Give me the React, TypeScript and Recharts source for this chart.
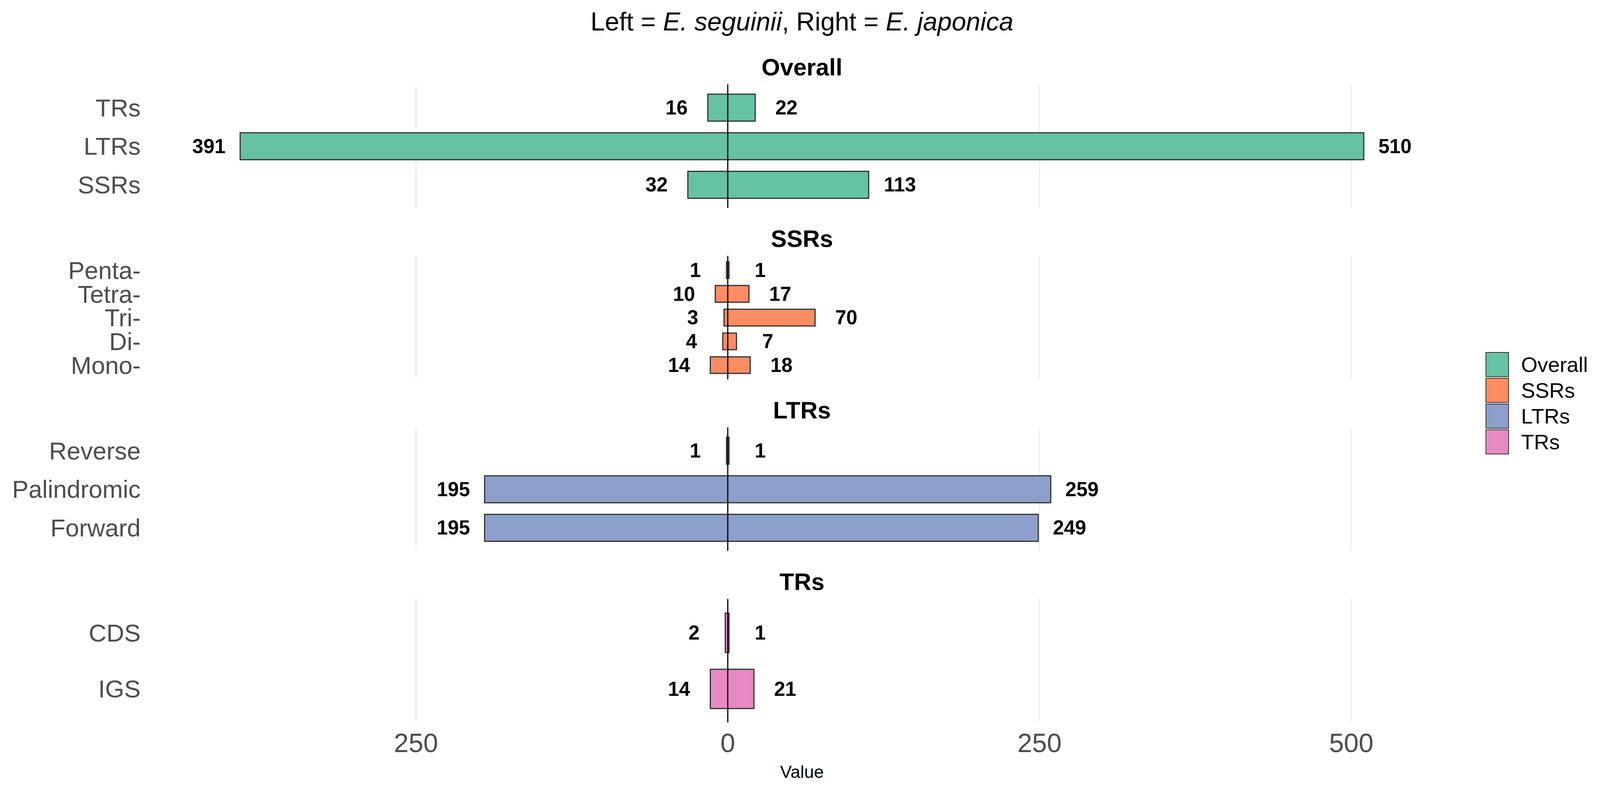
import React from "react";
import { Bar, BarChart, CartesianGrid, LabelList, ReferenceLine, XAxis, YAxis } from "recharts";

// facet names and fills (Set2)
const panelNames = ["Overall", "SSRs", "LTRs", "TRs"];
const panelColors = ["#66C2A5", "#FC8D62", "#8DA0CB", "#E78AC3"];

// left = E. seguinii, right = E. japonica
const overallCats = ["TRs", "LTRs", "SSRs"];
const overallLeft = [16, 391, 32];
const overallRight = [22, 510, 113];

const ssrCats = ["Penta-", "Tetra-", "Tri-", "Di-", "Mono-"];
const ssrLeft = [1, 10, 3, 4, 14];
const ssrRight = [1, 17, 70, 7, 18];

const ltrCats = ["Reverse", "Palindromic", "Forward"];
const ltrLeft = [1, 195, 195];
const ltrRight = [1, 259, 249];

const trCats = ["CDS", "IGS"];
const trLeft = [2, 14];
const trRight = [1, 21];

const xTicks = [-250, 0, 250, 500];

const panels = [
  { cats: overallCats, left: overallLeft, right: overallRight },
  { cats: ssrCats, left: ssrLeft, right: ssrRight },
  { cats: ltrCats, left: ltrLeft, right: ltrRight },
  { cats: trCats, left: trLeft, right: trRight },
];

// the browser caps the page at 4096px wide, so horizontal layout is squeezed to fit
const SX = 4096 / 4195;
const W = 4096;
const H = 2022;
const PLOT_LEFT = Math.round(482 * SX);
const PLOT_RIGHT = Math.round(3723 * SX);
const YLABEL_RIGHT = Math.round(369 * SX);
const PANEL_H = 316;
const PANEL_TOPS = [216, 655, 1094, 1533];
const LABEL_OFFSET = 80;
const FONT = '"Liberation Sans", Arial, sans-serif';

const lo = -Math.max(...panels.flatMap((p) => p.left));
const hi = Math.max(...panels.flatMap((p) => p.right));
const pad = 0.05 * (hi - lo);
const domain = [lo - pad, hi + pad];

const LeftLabel = (props: any) => {
  const { x, y, height, value } = props;
  return (
    <text x={x - LABEL_OFFSET} y={y + height / 2} textAnchor="middle" dominantBaseline="central"
      fontSize={51} fontWeight="bold" fontFamily={FONT} fill="#000">
      {value}
    </text>
  );
};

const RightLabel = (props: any) => {
  const { x, y, width, height, value } = props;
  return (
    <text x={x + width + LABEL_OFFSET} y={y + height / 2} textAnchor="middle" dominantBaseline="central"
      fontSize={51} fontWeight="bold" fontFamily={FONT} fill="#000">
      {value}
    </text>
  );
};

function Panel({ index }: { index: number }) {
  const p = panels[index];
  const rows = p.cats.map((name, i) => ({
    name,
    left: p.left[i],
    right: p.right[i],
    range: [-p.left[i], p.right[i]],
  }));
  const showAxis = index === panels.length - 1;
  const unit = PANEL_H / (rows.length + 0.2);
  const axisH = showAxis ? 110 : 0;
  const yAxisW = 400;

  return (
    <div style={{ position: "absolute", left: 0, top: PANEL_TOPS[index] }}>
      <BarChart
        width={W}
        height={PANEL_H + axisH}
        data={rows}
        layout="vertical"
        margin={{ top: 0, right: W - PLOT_RIGHT, bottom: 0, left: PLOT_LEFT - yAxisW }}
      >
        <CartesianGrid horizontal={false} verticalValues={xTicks} stroke="#ebebeb" strokeWidth={2.5} />
        <XAxis
          type="number"
          domain={domain}
          ticks={xTicks}
          allowDataOverflow
          hide={!showAxis}
          height={axisH}
          axisLine={false}
          tickLine={false}
          tickSize={0}
          tickMargin={28}
          tickFormatter={(v: number) => String(Math.abs(v))}
          tick={{ fontSize: 68, fill: "#4d4d4d", fontFamily: FONT }}
        />
        <YAxis
          type="category"
          dataKey="name"
          width={yAxisW}
          interval={0}
          axisLine={false}
          tickLine={false}
          tickSize={0}
          tickMargin={PLOT_LEFT - YLABEL_RIGHT}
          padding={{ top: unit * 0.1, bottom: unit * 0.1 }}
          tick={{ fontSize: 63, fill: "#4d4d4d", fontFamily: FONT }}
        />
        <Bar
          dataKey="range"
          fill={panelColors[index]}
          stroke="#333333"
          strokeWidth={3}
          barSize={unit * 0.7}
          isAnimationActive={false}
        >
          <LabelList dataKey="left" content={LeftLabel} />
          <LabelList dataKey="right" content={RightLabel} />
        </Bar>
        <ReferenceLine x={0} stroke="#000" strokeWidth={3} />
      </BarChart>
    </div>
  );
}

export default function App() {
  const centerX = (PLOT_LEFT + PLOT_RIGHT) / 2;
  const legendLeft = Math.round(3895 * SX);
  return (
    <div style={{ position: "absolute", left: 0, top: 0, width: W, height: H, background: "#fff", fontFamily: FONT }}>
      <div style={{ position: "absolute", left: centerX - 1500, width: 3000, top: 22, textAlign: "center", fontSize: 66, lineHeight: "66px", color: "#000" }}>
        Left = <i>E. seguinii</i>, Right = <i>E. japonica</i>
      </div>

      {panelNames.map((name, i) => (
        <div key={name} style={{ position: "absolute", left: PLOT_LEFT, width: PLOT_RIGHT - PLOT_LEFT, top: PANEL_TOPS[i] - 44 - 30, textAlign: "center", fontSize: 61, lineHeight: "61px", fontWeight: "bold", color: "#000" }}>
          {name}
        </div>
      ))}

      {panels.map((_, i) => (
        <Panel key={i} index={i} />
      ))}

      <div style={{ position: "absolute", left: centerX - 300, width: 600, top: 1976 - 23, textAlign: "center", fontSize: 45, lineHeight: "45px", color: "#000" }}>
        Value
      </div>

      <div style={{ position: "absolute", left: legendLeft, top: 900 }}>
        {panelNames.map((name, i) => (
          <div key={name} style={{ display: "flex", alignItems: "center", height: 66 }}>
            <div style={{ width: 56, height: 60, background: panelColors[i], border: "2px solid #333" }} />
            <span style={{ marginLeft: 31, fontSize: 54, lineHeight: "54px", color: "#000", whiteSpace: "nowrap" }}>{name}</span>
          </div>
        ))}
      </div>
    </div>
  );
}
